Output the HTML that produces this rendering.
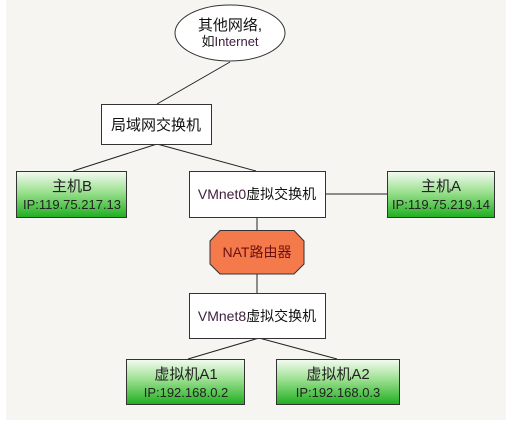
<!DOCTYPE html>
<html><head><meta charset="utf-8"><style>
html,body{margin:0;padding:0;background:#fff;}
</style></head><body>
<svg width="521" height="436" xmlns="http://www.w3.org/2000/svg" font-family="Liberation Sans, Noto Sans CJK SC, sans-serif">
<defs>
<linearGradient id="g" x1="0" y1="0" x2="0" y2="1">
<stop offset="0" stop-color="#f4fbf2"/>
<stop offset="0.45" stop-color="#9be08f"/>
<stop offset="1" stop-color="#1fae1f"/>
</linearGradient>
</defs>
<rect x="6" y="0" width="500" height="420" fill="#f6f5f1"/>
<g stroke="#222" stroke-width="1" fill="none">
<line x1="230" y1="62" x2="157" y2="104"/>
<line x1="157" y1="144" x2="73" y2="171"/>
<line x1="157" y1="144" x2="256" y2="171"/>
<line x1="326" y1="194" x2="387" y2="194"/>
<line x1="257" y1="217" x2="257" y2="230"/>
<line x1="257" y1="274" x2="257" y2="293"/>
<line x1="259" y1="338" x2="188" y2="359"/>
<line x1="259" y1="338" x2="337" y2="359"/>
</g>
<ellipse cx="230" cy="33" rx="55" ry="28" fill="#fff" stroke="#333"/>
<text x="230" y="30" font-size="15" text-anchor="middle" fill="#111">其他网络,</text>
<text x="230" y="46" font-size="13" text-anchor="middle" fill="#111">如<tspan fill="#402040">Internet</tspan></text>
<rect x="101.5" y="104.5" width="110" height="40" fill="#fff" stroke="#333"/>
<text x="156" y="130" font-size="15" text-anchor="middle" fill="#111">局域网交换机</text>
<rect x="16.5" y="171.5" width="110" height="46" fill="url(#g)" stroke="#333"/>
<text x="72" y="191" font-size="15" text-anchor="middle" fill="#222">主机B</text>
<text x="72" y="209" font-size="13" text-anchor="middle" fill="#222">IP:119.75.217.13</text>
<rect x="189.5" y="171.5" width="136" height="46" fill="#fff" stroke="#333"/>
<text x="257" y="199" font-size="14" text-anchor="middle" fill="#111"><tspan fill="#402040">VMnet0</tspan>虚拟交换机</text>
<rect x="387.5" y="171.5" width="107" height="46" fill="url(#g)" stroke="#333"/>
<text x="441" y="191" font-size="15" text-anchor="middle" fill="#222">主机A</text>
<text x="441" y="209" font-size="13" text-anchor="middle" fill="#222">IP:119.75.219.14</text>
<polygon points="220,230.5 294,230.5 304,241 304,264 294,274 220,274 210,264 210,241" fill="#f47a4c" stroke="#333"/>
<text x="257" y="257" font-size="14" text-anchor="middle" fill="#6a1010">NAT路由器</text>
<rect x="189.5" y="293.5" width="136" height="45" fill="#fff" stroke="#333"/>
<text x="257" y="321" font-size="14" text-anchor="middle" fill="#111"><tspan fill="#402040">VMnet8</tspan>虚拟交换机</text>
<rect x="126.5" y="359.5" width="118" height="45" fill="url(#g)" stroke="#333"/>
<text x="186" y="379" font-size="15" text-anchor="middle" fill="#222">虚拟机A1</text>
<text x="186" y="397" font-size="13" text-anchor="middle" fill="#222">IP:192.168.0.2</text>
<rect x="276.5" y="359.5" width="123" height="45" fill="url(#g)" stroke="#333"/>
<text x="338" y="379" font-size="15" text-anchor="middle" fill="#222">虚拟机A2</text>
<text x="338" y="397" font-size="13" text-anchor="middle" fill="#222">IP:192.168.0.3</text>
</svg>
</body></html>
